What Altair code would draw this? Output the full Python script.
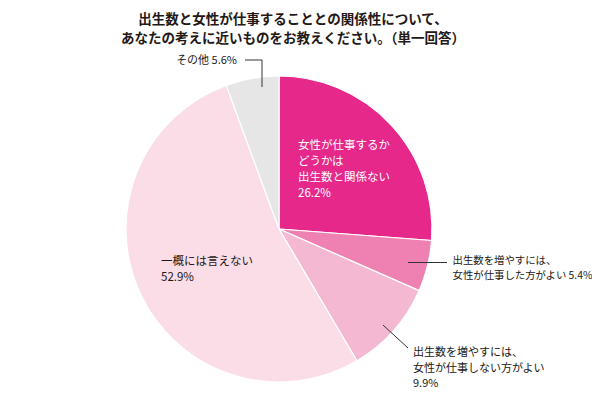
import altair as alt
import pandas as pd

# ---- data ----
categories = [
    "女性が仕事するかどうかは出生数と関係ない",
    "出生数を増やすには、女性が仕事した方がよい",
    "出生数を増やすには、女性が仕事しない方がよい",
    "一概には言えない",
    "その他",
]
values = [26.2, 5.4, 9.9, 52.9, 5.6]
colors = ["#E5288A", "#EE80B2", "#F4B8D3", "#FBDDE8", "#E6E6E6"]
title_lines = [
    "出生数と女性が仕事することとの関係性について、",
    "あなたの考えに近いものをお教えください。（単一回答）",
]
label_lines = [
    ["女性が仕事するか", "どうかは", "出生数と関係ない", "26.2%"],
    ["出生数を増やすには、", "女性が仕事した方がよい 5.4%"],
    ["出生数を増やすには、", "女性が仕事しない方がよい", "9.9%"],
    ["一概には言えない", "52.9%"],
    ["その他 5.6%"],
]

# ---- layout (view coords = page coords - 8) ----
OFF = 8
CX, CY, R = 279 - OFF, 229 - OFF, 153
FONT = "Noto Sans CJK JP"
DARK = "#231815"

label_pos = [  # x, first-line y, line spacing, align, color, size
    (298, 145.5, 16, "left", "white", 11.5),
    (452.5, 261, 14.5, "left", DARK, 10.4),
    (413, 353, 15.5, "left", DARK, 11),
    (161, 262, 15.5, "left", DARK, 11.5),
    (237, 61, 15, "right", DARK, 11),
]
leaders = [  # x, y, x2, y2 (page px)
    (408, 262.5, 447, 262.5),
    (383, 325, 408, 348),
    (262, 87, 262, 60),
    (245, 60, 262, 60),
]

pie_df = pd.DataFrame({"category": categories, "value": values, "order": list(range(len(values)))})

pie = alt.Chart(pie_df).mark_arc(radius=R, stroke="white", strokeWidth=1.2).encode(
    theta=alt.Theta("value:Q", stack=True, scale=alt.Scale(domain=[0, sum(values)])),
    order=alt.Order("order:Q"),
    color=alt.Color("category:N", scale=alt.Scale(domain=categories, range=colors), legend=None),
    x=alt.value(CX),
    y=alt.value(CY),
)

rows = []
for lines, (lx, ly, dy, al, col, fs) in zip(label_lines, label_pos):
    for i, t in enumerate(lines):
        rows.append({"x": lx - OFF, "y": ly - OFF + i * dy, "text": t, "align": al, "color": col, "size": fs})
lab_df = pd.DataFrame(rows)

label_layers = []
for (al, col, fs), sub in lab_df.groupby(["align", "color", "size"]):
    label_layers.append(
        alt.Chart(sub).mark_text(align=al, baseline="middle", font=FONT, fontSize=fs, color=col).encode(
            x=alt.X("x:Q", scale=None), y=alt.Y("y:Q", scale=None), text="text:N"
        )
    )

lead_df = pd.DataFrame([{"x": a - OFF, "y": b - OFF, "x2": c - OFF, "y2": d - OFF} for a, b, c, d in leaders])
lead = alt.Chart(lead_df).mark_rule(color="#333333", strokeWidth=1).encode(
    x=alt.X("x:Q", scale=None), y=alt.Y("y:Q", scale=None), x2="x2:Q", y2="y2:Q"
)

title_df = pd.DataFrame({"x": [293 - OFF] * 2, "y": [19.5 - OFF, 39.2 - OFF], "text": title_lines})
title = alt.Chart(title_df).mark_text(align="center", baseline="middle", font=FONT, fontSize=13.5,
                                      fontWeight="bold", color=DARK).encode(
    x=alt.X("x:Q", scale=None), y=alt.Y("y:Q", scale=None), text="text:N"
)

chart = alt.layer(pie, lead, title, *label_layers).properties(
    width=584, height=385, padding=0, autosize="none"
).configure_view(stroke=None)

chart.save("out.html", embed_options={"renderer": "svg", "actions": False})
